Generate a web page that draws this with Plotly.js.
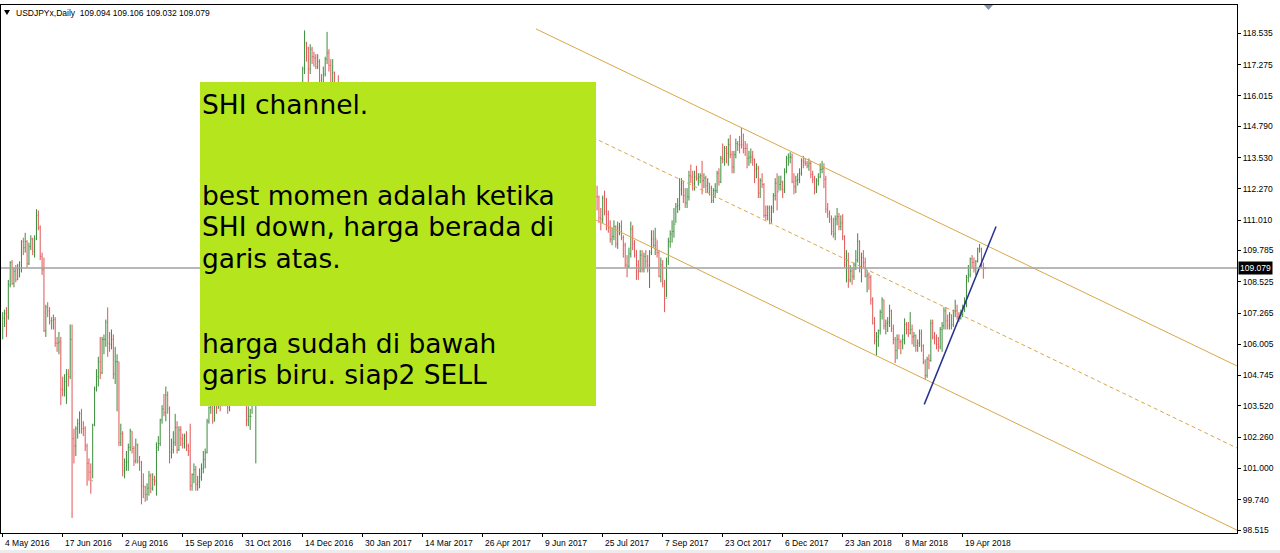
<!DOCTYPE html>
<html><head><meta charset="utf-8">
<script src="https://cdn.plot.ly/plotly-3.0.1.min.js"></script>
<style>html,body{margin:0;padding:0;background:#fff;overflow:hidden}#chart{width:1280px;height:553px}</style>
</head><body><div id="chart"></div>
<script>
// ---- DATA (USDJPY daily) ----
const symbolName = "USDJPYx,Daily";
const firstOpen = 106.60;
const headerOHLC = [109.094, 109.106, 109.032, 109.079];

const high = [
107.30,107.40,107.50,108.60,109.35,109.40,109.10,109.20,109.25,109.35,110.20,110.30,110.50,110.20,110.10,110.40,110.30,110.40,111.45,111.40,110.80,109.70,109.50,107.60,107.70,107.50,107.10,107.20,107.10,106.30,106.50,106.30,
104.70,104.80,105.00,105.00,106.80,106.80,102.60,102.70,103.00,103.30,103.40,102.90,102.70,102.00,101.40,101.20,102.80,104.30,105.00,105.50,106.30,106.30,106.40,107.00,107.49,106.50,106.60,106.40,105.90,105.60,105.30,102.80,
102.50,101.40,101.70,102.00,102.60,102.50,101.90,102.20,102.00,101.50,101.30,100.80,100.30,100.40,100.90,100.80,100.80,100.70,102.05,102.30,103.00,103.55,104.00,104.30,104.10,103.50,102.20,102.50,103.20,102.90,102.70,102.70,
102.40,102.40,102.50,102.00,102.80,100.80,101.20,101.10,100.70,101.00,101.20,101.70,101.80,103.00,103.50,104.10,104.20,103.70,104.00,104.30,104.30,104.60,104.30,104.00,104.00,104.10,104.20,104.30,104.60,104.40,105.30,105.50,
105.10,104.90,104.30,103.50,103.40,104.60,105.50,105.90,106.90,106.90,108.50,109.35,109.80,110.40,110.95,111.20,111.35,112.80,113.50,113.90,113.30,112.40,114.80,114.80,114.40,114.00,114.40,114.20,114.50,115.40,116.10,115.70,
117.20,118.66,118.20,118.00,118.10,118.00,117.80,117.70,117.70,117.50,116.90,117.20,117.60,118.60,117.90,117.50,117.50,117.00,116.30,116.85,115.50,115.00,114.60,114.30,113.60,115.20,115.60,114.60,114.00,114.30,115.35,115.40,
115.00,114.00,113.80,113.40,113.30,112.70,112.60,112.40,113.40,113.80,113.90,114.50,114.95,114.20,113.60,113.30,113.90,113.80,113.40,112.80,112.80,113.20,114.00,114.60,114.70,114.20,114.20,114.50,115.20,115.50,115.00,115.00,
114.90,113.60,113.50,112.90,112.90,111.90,111.60,111.50,111.00,111.30,111.40,112.20,112.20,111.60,111.00,111.20,111.00,111.40,111.60,111.10,110.40,109.40,109.10,109.00,109.00,109.20,109.60,109.50,110.30,111.20,111.60,111.50,
111.80,112.00,112.20,112.90,112.90,112.90,113.40,114.10,114.40,114.40,114.10,113.90,114.20,113.20,111.60,111.90,111.60,111.80,112.10,112.10,111.90,111.40,111.30,111.20,111.50,111.70,110.70,110.50,110.10,110.30,110.80,110.40,
110.30,110.30,110.30,111.00,111.40,111.20,111.70,111.80,111.70,111.50,111.50,112.00,112.50,112.60,112.90,112.60,113.50,113.50,113.50,113.70,114.10,114.30,114.50,114.20,113.50,113.50,112.90,112.70,112.30,112.40,112.00,111.50,
112.00,112.20,111.90,111.40,111.00,110.70,111.00,110.80,110.95,110.90,111.00,110.40,110.10,109.60,109.90,110.95,110.80,110.20,109.80,109.40,109.80,109.80,109.70,109.80,109.60,109.80,110.60,110.60,110.70,110.20,109.80,109.50,
109.40,108.60,109.50,110.30,110.60,111.00,111.50,111.70,111.90,112.70,112.70,112.60,112.30,112.30,113.00,113.25,113.00,113.00,113.20,112.90,112.90,113.40,112.90,112.80,112.70,112.50,112.40,112.30,112.50,113.00,113.10,113.60,
114.10,114.00,114.00,114.30,114.45,113.80,113.80,114.30,114.20,114.40,114.73,114.50,114.20,114.10,113.80,113.90,113.80,113.50,113.30,113.20,112.70,112.90,112.50,111.60,111.60,111.60,111.60,112.10,112.70,112.90,112.80,112.80,
112.60,113.10,113.60,113.70,113.75,113.70,112.90,112.80,112.90,113.10,113.50,113.60,113.50,113.40,113.50,113.40,113.00,112.80,112.70,112.90,113.30,113.40,113.30,112.80,111.70,111.40,111.20,111.10,111.20,111.50,111.30,111.20,
111.25,110.40,109.80,109.70,109.20,109.10,109.30,109.80,110.48,110.20,109.70,109.80,109.50,109.00,108.90,108.80,107.90,107.10,106.50,106.60,107.40,107.90,107.80,107.00,107.10,107.60,107.40,106.80,106.30,106.40,106.40,106.20,
106.40,107.05,106.90,106.90,107.30,106.80,106.50,106.40,106.20,106.60,106.60,106.00,105.40,105.50,105.60,107.00,107.00,106.50,106.40,106.30,106.70,106.90,107.50,107.50,107.20,107.30,107.20,107.40,107.80,107.60,107.30,107.40,
107.60,107.90,108.80,109.20,109.50,109.60,109.50,109.40,109.90,110.05,109.90,109.30,109.106];

const low = [
106.20,106.70,106.30,107.00,108.30,108.40,108.30,108.50,108.60,108.70,108.90,109.60,109.70,109.10,109.20,109.80,109.60,109.50,110.20,110.60,109.40,108.80,106.50,106.30,107.10,106.80,106.60,106.60,105.90,105.70,105.60,103.55,
103.90,103.90,103.60,104.30,104.60,99.00,101.20,101.50,102.20,102.40,102.40,102.30,101.70,100.30,100.50,99.98,100.60,102.70,104.10,104.30,104.60,104.80,105.60,105.90,105.50,105.70,105.80,104.60,104.40,103.30,101.90,101.90,
100.68,100.60,100.90,100.90,101.70,101.60,101.10,101.20,101.20,100.90,99.55,99.80,99.65,99.70,99.90,100.00,100.10,100.30,99.90,101.70,101.90,102.80,103.10,102.90,103.20,101.20,101.40,101.60,101.90,101.60,101.70,101.90,
101.80,101.80,101.70,101.50,100.10,100.10,100.40,100.10,100.10,100.20,100.50,100.80,101.00,101.60,102.80,103.20,102.80,102.90,103.20,103.40,103.30,103.50,103.60,103.50,103.20,103.30,103.60,103.70,103.90,103.90,104.20,104.40,
104.60,104.00,102.70,102.70,102.55,103.20,104.40,101.20,105.60,105.90,106.60,108.30,108.90,108.70,110.10,110.10,110.50,110.90,112.40,112.90,111.60,111.35,111.90,113.90,112.90,112.90,113.40,113.00,113.40,113.90,114.80,114.80,
114.70,116.90,117.40,116.55,116.90,117.30,117.20,117.10,117.10,116.50,116.05,116.30,116.80,117.30,117.00,115.05,115.30,115.80,115.40,114.20,113.75,114.10,113.90,112.55,112.50,113.20,114.30,112.60,112.70,113.00,113.20,114.60,
113.50,112.10,112.60,112.50,112.10,111.60,111.60,111.60,111.90,112.90,113.10,113.40,113.90,112.90,112.60,112.70,113.00,113.00,112.40,111.90,111.90,112.20,112.70,113.60,113.80,113.60,113.70,113.80,114.30,114.40,114.50,114.60,
113.00,112.80,112.60,112.40,111.60,110.90,110.80,110.70,110.10,110.40,110.70,111.00,111.20,110.50,110.30,110.30,110.20,110.50,110.80,110.10,109.10,108.70,108.40,108.10,108.40,108.50,108.80,108.90,109.20,109.90,110.90,110.80,
111.00,111.40,111.60,111.90,112.30,112.30,112.60,113.10,113.70,113.50,113.20,113.20,112.90,110.90,110.25,110.90,110.90,110.80,111.20,111.40,110.90,110.80,110.60,110.60,110.70,110.30,110.20,109.40,109.30,109.60,109.80,109.70,
109.80,109.80,108.80,109.40,110.60,110.60,110.80,111.20,111.00,111.00,111.00,111.20,111.60,112.00,111.80,111.90,112.40,113.00,112.80,112.90,113.10,113.70,113.80,113.10,112.90,112.30,112.40,111.70,111.70,111.40,110.90,110.60,
110.90,111.20,110.60,110.50,110.10,110.00,110.20,109.90,109.85,110.40,110.20,109.50,109.10,108.70,109.10,109.50,109.80,109.50,108.60,108.60,108.90,108.90,108.90,109.10,108.90,108.27,109.60,109.90,109.60,109.50,108.70,108.50,
108.30,107.30,107.90,109.20,109.90,110.10,110.30,110.90,111.30,111.40,112.00,111.70,111.50,111.50,111.80,112.50,112.20,112.20,112.60,112.40,112.50,112.05,112.30,112.10,112.10,112.00,111.70,111.70,111.90,112.10,112.40,112.50,
113.30,113.20,113.30,113.20,113.50,112.90,112.90,113.50,113.80,113.70,113.90,113.70,113.60,113.10,113.20,113.30,113.20,112.50,112.70,111.90,111.90,112.30,111.10,111.00,111.00,110.84,110.90,111.30,111.80,111.40,112.20,112.20,
111.90,112.10,112.90,113.20,113.30,112.50,112.05,112.10,112.40,112.50,112.80,113.10,113.20,113.10,113.00,112.70,112.50,112.05,112.10,112.40,112.70,112.90,112.30,111.30,111.10,110.90,110.40,110.30,110.20,110.80,110.60,110.60,
110.20,109.10,108.50,108.28,108.50,108.40,108.60,109.00,109.30,108.90,108.50,109.10,108.70,108.10,108.20,107.60,106.80,106.00,105.55,105.90,106.40,107.00,106.60,106.40,106.50,106.70,106.50,106.00,105.25,105.40,105.80,105.60,
105.80,106.00,106.40,106.30,106.40,106.00,105.90,105.70,105.70,105.90,105.70,105.20,104.60,104.65,105.00,105.30,106.20,106.00,105.80,105.70,105.80,105.70,106.60,106.60,106.60,106.60,106.60,106.70,107.10,107.00,106.90,107.00,
107.10,107.30,107.50,108.50,108.70,109.10,108.90,108.80,109.30,109.70,109.10,108.65,109.032];

const close = [
107.05,107.25,107.10,108.40,109.30,108.45,108.95,108.60,109.05,109.05,110.15,109.90,110.15,109.25,109.95,110.25,109.75,110.25,111.20,110.70,109.55,109.00,106.55,107.50,107.35,106.95,106.95,107.00,106.05,106.05,106.10,104.20,
104.15,104.50,104.80,104.70,106.20,102.20,101.90,102.60,102.80,103.20,102.60,102.60,101.90,101.20,100.85,100.50,102.75,104.20,104.70,105.30,104.85,106.20,106.20,106.90,106.05,106.00,106.20,104.80,105.30,105.30,102.05,102.40,
100.90,101.25,101.25,101.85,102.50,101.80,101.30,101.95,101.30,101.25,100.30,100.25,99.95,100.20,100.70,100.20,100.55,100.50,101.85,102.00,102.95,103.40,103.25,103.95,103.40,101.65,101.75,102.05,102.65,101.75,102.55,102.20,
102.00,102.30,101.90,101.70,100.30,100.75,100.95,100.35,100.45,100.65,101.00,101.35,101.65,102.90,103.45,103.95,102.90,103.60,103.55,104.20,103.60,104.20,103.85,103.85,103.45,104.05,103.85,104.20,104.25,104.30,105.25,104.75,
104.80,104.25,102.95,103.10,103.10,104.45,105.10,105.70,106.80,106.65,108.40,109.15,109.05,110.25,110.90,110.75,111.05,112.45,113.25,113.20,112.15,111.95,114.45,114.05,113.50,113.85,114.05,113.75,114.10,115.30,115.10,115.40,
117.10,118.15,117.95,117.10,117.90,117.60,117.55,117.20,117.40,116.65,116.50,116.90,117.50,117.75,117.25,115.35,116.95,115.90,115.75,115.40,114.45,114.50,114.20,112.70,113.30,114.85,114.60,112.70,113.85,113.25,115.10,115.10,
113.75,112.75,113.25,112.80,112.55,112.35,112.25,111.95,113.25,113.20,113.70,114.30,114.15,113.20,112.85,113.05,113.65,113.30,112.60,112.10,112.70,112.75,113.70,114.45,114.00,113.95,113.95,114.35,115.05,114.75,114.75,114.75,
113.35,113.35,112.70,112.55,111.75,111.15,111.00,111.30,110.65,111.10,111.05,111.95,111.40,110.85,110.75,110.70,110.80,110.85,111.05,110.35,109.30,109.05,108.65,108.85,108.80,108.95,109.30,109.10,110.05,111.10,111.40,111.25,
111.50,111.85,112.05,112.75,112.50,112.70,113.25,113.95,114.30,113.85,113.35,113.75,113.15,111.20,111.50,111.30,111.30,111.50,111.60,111.85,111.30,110.85,110.80,110.80,111.40,110.40,110.45,109.50,109.80,110.00,110.35,110.05,
110.10,110.05,109.60,110.90,110.85,111.00,111.55,111.45,111.40,111.30,111.30,111.85,112.35,112.30,112.00,112.40,113.45,113.25,113.25,113.25,113.90,114.05,114.05,113.25,113.30,112.55,112.65,111.95,111.95,111.95,111.10,111.05,
111.90,111.35,111.25,110.70,110.25,110.35,110.75,110.05,110.70,110.75,110.30,110.00,109.20,109.15,109.65,110.65,110.05,109.60,109.20,108.95,109.60,109.05,109.55,109.35,109.20,109.70,110.25,110.00,110.25,109.70,108.75,109.20,
108.45,107.85,109.35,110.15,110.45,110.55,110.85,111.55,111.60,112.25,112.50,112.00,111.70,111.95,112.80,112.75,112.50,112.75,112.70,112.75,112.80,112.60,112.70,112.40,112.50,112.30,111.80,112.20,112.20,112.90,112.55,113.50,
113.45,113.90,113.70,114.05,113.65,113.15,113.65,114.10,114.05,114.05,114.05,113.90,113.90,113.50,113.55,113.55,113.45,113.05,113.10,112.10,112.60,112.45,111.20,111.20,111.50,111.05,111.50,112.00,112.50,112.15,112.45,112.55,
112.25,112.95,113.50,113.55,113.55,112.55,112.35,112.60,112.65,112.90,113.40,113.35,113.30,113.20,113.30,112.85,112.65,112.30,112.60,112.75,113.05,113.10,112.65,111.45,111.25,111.05,110.55,110.45,111.05,111.15,110.75,110.90,
110.35,109.20,109.40,108.60,108.95,108.75,109.20,109.40,110.15,109.10,109.50,109.30,108.75,108.80,108.70,107.80,106.85,106.15,106.30,106.55,107.30,107.80,106.75,106.85,106.90,107.35,106.65,106.20,105.75,106.20,106.10,106.10,
106.20,106.80,106.60,106.45,106.60,106.30,106.35,105.95,106.05,106.45,105.95,105.30,104.75,105.40,105.35,106.85,106.30,106.25,106.00,105.90,106.60,106.75,107.35,106.95,106.75,107.20,106.80,107.35,107.35,107.10,107.05,107.20,
107.40,107.65,108.70,108.80,109.45,109.30,109.05,109.35,109.85,109.85,109.20,109.094,109.079];

const dateLabels = ["4 May 2016","17 Jun 2016","2 Aug 2016","15 Sep 2016","31 Oct 2016","14 Dec 2016","30 Jan 2017","14 Mar 2017","26 Apr 2017","9 Jun 2017","25 Jul 2017","7 Sep 2017","23 Oct 2017","6 Dec 2017","23 Jan 2018","8 Mar 2018","19 Apr 2018"];
const dateIdx = [0,32,64,96,128,160,192,224,256,288,320,352,384,416,448,480,512];
const priceTicks = [118.535,117.275,116.015,114.790,113.530,112.270,111.010,109.785,108.525,107.265,106.005,104.745,103.520,102.260,101.000,99.740,98.515];

// hand-drawn objects (in bar index / price)
const channelX = [284.4, 658.3];
const channelUpper = [118.72, 105.13];
const channelMid = [115.45, 101.82];
const channelLower = [112.18, 98.51];
const blueX = [491.5, 529.8];
const blueY = [103.58, 110.75];

const noteLines = ["SHI channel.", "best momen adalah ketika", "SHI down, harga berada di", "garis atas.", "harga sudah di bawah", "garis biru. siap2 SELL"];

// ---- BUILD ----
const n = close.length;
const idx = close.map((_, i) => i);
const open = close.map((c, i) => i === 0 ? firstOpen : close[i - 1]);
open[n - 1] = headerOHLC[0];
const curPrice = close[n - 1];

// pixel helpers for page furniture (plot area: x 1..1237, y 5..533)
const PL = 1, PW = 1236, PT = 5, PH = 528;
const px = v => (v - PL) / PW;
const py = v => (PT + PH - v) / PH;

const axisFont = {family: "Liberation Sans, Arial, sans-serif", size: 8.5, color: "#000"};
const chanColor = "#D9A74A";

const traces = [
  {type: "ohlc", x: idx, open: open, high: high, low: low, close: close,
   increasing: {line: {color: "#3A8C3A", width: 1}},
   decreasing: {line: {color: "#E05555", width: 1}},
   tickwidth: 0.3, hoverinfo: "skip", showlegend: false},
  {type: "scatter", mode: "lines", x: channelX, y: channelUpper, line: {color: chanColor, width: 1}, hoverinfo: "skip", showlegend: false},
  {type: "scatter", mode: "lines", x: channelX, y: channelLower, line: {color: chanColor, width: 1}, hoverinfo: "skip", showlegend: false},
  {type: "scatter", mode: "lines", x: channelX, y: channelMid, line: {color: chanColor, width: 1, dash: "4px,3px"}, hoverinfo: "skip", showlegend: false},
  {type: "scatter", mode: "lines", x: blueX, y: blueY, line: {color: "#27308F", width: 1.5}, hoverinfo: "skip", showlegend: false}
];

const noteY = [104, 196, 227, 258, 343, 374];
const annotations = [];
dateLabels.forEach((t, k) => annotations.push({
  x: dateIdx[k], xref: "x", y: 0, yref: "paper", yanchor: "top", xanchor: "left", yshift: -3,
  text: t, showarrow: false, font: axisFont
}));
annotations.push({x: px(14), xref: "paper", y: py(13), yref: "paper", xanchor: "left", yanchor: "middle",
  text: symbolName + "  " + headerOHLC.map(v => v.toFixed(3)).join(" "), showarrow: false, font: axisFont});
noteLines.forEach((t, k) => annotations.push({
  x: px(202), xref: "paper", y: py(noteY[k]), yref: "paper", xanchor: "left", yanchor: "middle",
  text: t, showarrow: false, borderpad: 0, borderwidth: 0,
  font: {family: "DejaVu Sans, sans-serif", size: 26.5, color: "#000"}
}));
annotations.push({x: 1, xref: "paper", xanchor: "left", xshift: 1, y: curPrice, yref: "y", yanchor: "middle",
  text: curPrice.toFixed(3), showarrow: false, bgcolor: "#000", borderpad: 1,
  font: {family: "Liberation Sans, Arial, sans-serif", size: 8.5, color: "#fff"}});

const shapes = [
  {type: "line", xref: "paper", x0: 0, x1: 1, yref: "y", y0: curPrice, y1: curPrice, layer: "above",
   line: {color: "#A0A0A0", width: 1.5}},
  {type: "rect", xref: "paper", yref: "paper", x0: px(200), x1: px(596), y0: py(406), y1: py(82), layer: "above",
   fillcolor: "#B5E61D", line: {width: 0}},
  {type: "path", xref: "paper", yref: "paper", layer: "above",
   path: `M ${px(4)} ${py(10)} L ${px(10)} ${py(10)} L ${px(7)} ${py(15)} Z`, fillcolor: "#000", line: {width: 0}},
  {type: "path", xref: "paper", yref: "paper", layer: "above",
   path: `M ${px(984)} ${py(5)} L ${px(993)} ${py(5)} L ${px(988.5)} ${py(10)} Z`, fillcolor: "#7F93AE", line: {width: 0}},
  {type: "rect", xref: "paper", yref: "paper", x0: px(0), x1: px(1280), y0: py(553), y1: py(550), layer: "above",
   fillcolor: "#ECECEC", line: {width: 0}}
];

const layout = {
  width: 1280, height: 553,
  margin: {l: PL, r: 1280 - PL - PW, t: PT, b: 553 - PT - PH, pad: 0},
  paper_bgcolor: "#fff", plot_bgcolor: "#fff",
  showlegend: false, dragmode: false,
  xaxis: {range: [-(2.7 - PL) / 1.875, -(2.7 - PL) / 1.875 + PW / 1.875], type: "linear",
    tickvals: dateIdx, showticklabels: false, ticks: "outside", ticklen: 3, tickcolor: "#000", tickwidth: 1,
    showgrid: false, zeroline: false, showline: true, linecolor: "#000", linewidth: 1, mirror: true,
    rangeslider: {visible: false}, fixedrange: true},
  yaxis: {range: [98.394, 119.684], side: "right", tickvals: priceTicks, ticktext: priceTicks.map(v => v.toFixed(3)),
    ticks: "outside", ticklen: 3, tickcolor: "#000", tickfont: axisFont,
    showgrid: false, zeroline: false, showline: true, linecolor: "#000", linewidth: 1, mirror: true, fixedrange: true},
  shapes: shapes,
  annotations: annotations
};

Plotly.newPlot("chart", traces, layout, {displayModeBar: false, staticPlot: true});
</script>
</body></html>
